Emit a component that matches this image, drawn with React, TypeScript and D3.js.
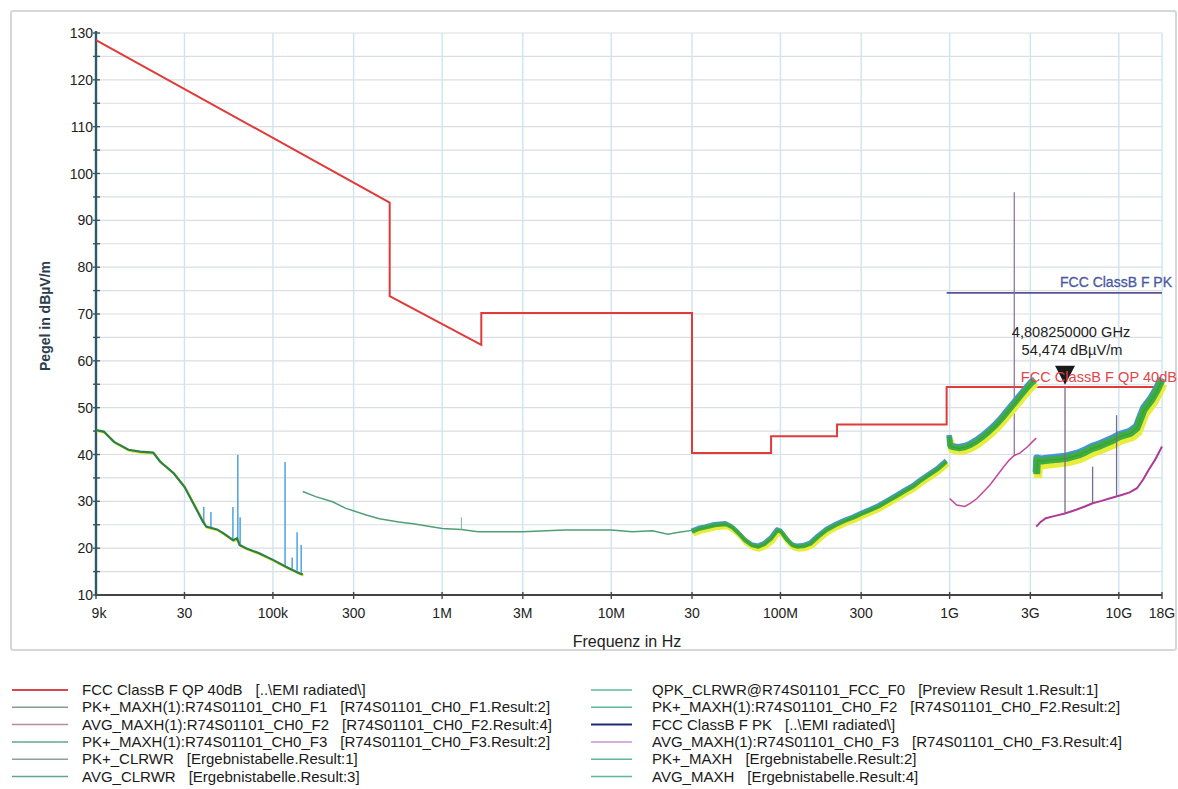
import React from 'react'
import * as d3 from 'd3'

const W = 1178
const H = 789

// limit lines
const qpFreq = [9e3, 490e3, 490e3, 1.705e6, 1.705e6, 30e6, 30e6, 88e6, 88e6, 216e6, 216e6, 960e6, 960e6, 18e9]
const qpLevel = [128.5, 93.8, 73.8, 63.4, 70.2, 70.2, 40.3, 40.3, 43.9, 43.9, 46.4, 46.4, 54.4, 54.4]
const pkFreq = [960e6, 18e9]
const pkLevel = [74.5, 74.5]

// F1: 9k - 150k
const f1Freq = [9e3, 10e3, 11.5e3, 14e3, 16.4e3, 19.6e3, 21.5e3, 25.9e3, 30e3, 33.8e3, 38.5e3, 40.3e3, 46.7e3, 50.8e3, 58.2e3, 61.3e3, 63.5e3, 69.2e3, 83e3, 100e3, 120e3, 144e3, 150e3]
const f1Level = [45.2, 44.9, 42.7, 41.0, 40.6, 40.4, 38.5, 36.0, 33.1, 29.6, 25.7, 24.6, 24.0, 23.2, 21.7, 22.1, 20.7, 20.0, 18.9, 17.5, 16.0, 14.6, 14.4]
const f1SpikeFreq = [39e3, 43e3, 58e3, 62e3, 64e3, 118e3, 130e3, 139e3, 147e3]
const f1SpikeBase = [25.4, 24.4, 21.8, 22.0, 20.8, 16.0, 15.6, 15.2, 14.6]
const f1SpikeTop = [28.8, 27.7, 28.8, 39.9, 26.6, 38.4, 18.0, 23.4, 20.7]

// F1: 150k - 30M (thin)
const f1bFreq = [150e3, 179e3, 225e3, 270e3, 356e3, 426e3, 554e3, 675e3, 1.0e6, 1.3e6, 1.63e6, 3.0e6, 5.3e6, 10e6, 13.3e6, 17.5e6, 21.6e6, 25.1e6, 30e6]
const f1bLevel = [32.1, 31.0, 29.9, 28.5, 27.1, 26.3, 25.6, 25.2, 24.2, 24.0, 23.5, 23.5, 23.9, 23.9, 23.5, 23.7, 23.0, 23.4, 23.8]
const f1bSpikeFreq = [1.3e6]
const f1bSpikeBase = [24.0]
const f1bSpikeTop = [26.6]

// F1: 30M - 1G (noisy band)
const f1cFreq = [30e6, 33e6, 36e6, 41e6, 47.6e6, 52e6, 56.5e6, 62e6, 68e6, 73.7e6, 80e6, 88e6, 96e6, 101e6, 110e6, 118e6, 126e6, 137e6, 150e6, 168e6, 188e6, 212e6, 240e6, 270e6, 301e6, 340e6, 381e6, 430e6, 480e6, 540e6, 605e6, 680e6, 763e6, 860e6, 960e6]
const f1cLevel = [23.5, 24.1, 24.4, 24.9, 25.1, 24.4, 23.2, 21.6, 20.6, 20.3, 20.8, 22.0, 23.8, 23.5, 21.7, 20.6, 20.3, 20.4, 20.9, 22.5, 23.9, 24.9, 25.8, 26.5, 27.3, 28.1, 28.9, 30.0, 31.0, 32.1, 33.1, 34.5, 35.7, 37.0, 38.5]

// F2: 1G - 3.2G
const f2PkFreq = [1.0e9, 1.01e9, 1.06e9, 1.13e9, 1.23e9, 1.33e9, 1.45e9, 1.58e9, 1.73e9, 1.89e9, 2.06e9, 2.25e9, 2.45e9, 2.66e9, 2.85e9, 3.05e9, 3.2e9]
const f2PkLevel = [43.8, 41.7, 41.5, 41.3, 41.5, 42.0, 42.8, 43.8, 45.0, 46.3, 47.8, 49.5, 51.1, 52.7, 54.0, 55.2, 55.8]
const f2AvgFreq = [1.0e9, 1.1e9, 1.23e9, 1.33e9, 1.45e9, 1.58e9, 1.73e9, 1.89e9, 2.06e9, 2.25e9, 2.41e9, 2.6e9, 2.9e9, 3.1e9, 3.25e9]
const f2AvgLevel = [30.6, 29.2, 28.9, 29.6, 30.6, 32.0, 33.5, 35.3, 37.1, 38.8, 39.8, 40.3, 41.7, 42.8, 43.5]
const f2SpikeFreq = [2.41e9]
const f2SpikeBase = [39.8]
const f2SpikeTop = [96.0]

// F3: 3.3G - 18G
const f3PkFreq = [3.27e9, 3.3e9, 3.5e9, 3.9e9, 4.4e9, 4.9e9, 5.8e9, 6.4e9, 7.0e9, 7.7e9, 8.4e9, 9.2e9, 10.1e9, 11.7e9, 12.8e9, 14.1e9, 15.6e9, 16.8e9, 18e9]
const f3PkLevel = [35.8, 38.8, 38.6, 38.8, 39.0, 39.2, 39.9, 40.6, 41.3, 41.8, 42.4, 43.0, 43.8, 44.5, 45.6, 49.5, 51.6, 53.6, 55.9]
const f3AvgFreq = [3.25e9, 3.45e9, 3.7e9, 4.2e9, 4.8e9, 5.6e9, 6.3e9, 7.0e9, 7.9e9, 8.8e9, 10.5e9, 11.6e9, 12.8e9, 13.9e9, 15.0e9, 16.4e9, 18e9]
const f3AvgLevel = [24.6, 25.6, 26.4, 26.9, 27.4, 28.2, 28.9, 29.6, 30.1, 30.6, 31.4, 31.9, 32.8, 34.6, 36.7, 38.9, 41.7]
const f3SpikeFreq = [4.80825e9, 7.0e9, 9.7e9]
const f3SpikeBase = [27.4, 29.6, 31.0]
const f3SpikeTop = [54.474, 37.4, 48.4]

// marker
const markerFreq = 4.80825e9
const markerLevel = 54.474
const markerLines = ['4,808250000 GHz', '54,474 dBµV/m']

// axes
const yTicks = [10, 20, 30, 40, 50, 60, 70, 80, 90, 100, 110, 120, 130]
const yMinor = [15, 25, 35, 45, 55, 65, 75, 85, 95, 105, 115, 125]
const xTicks = [9e3, 30e3, 100e3, 300e3, 1e6, 3e6, 10e6, 30e6, 100e6, 300e6, 1e9, 3e9, 10e9, 18e9]
const xTickLabels = ['9k', '30', '100k', '300', '1M', '3M', '10M', '30', '100M', '300', '1G', '3G', '10G', '18G']

// legend: [name, source]
const legendLeft = [
  ['FCC ClassB F QP 40dB', '[..\\EMI radiated\\]'],
  ['PK+_MAXH(1):R74S01101_CH0_F1', '[R74S01101_CH0_F1.Result:2]'],
  ['AVG_MAXH(1):R74S01101_CH0_F2', '[R74S01101_CH0_F2.Result:4]'],
  ['PK+_MAXH(1):R74S01101_CH0_F3', '[R74S01101_CH0_F3.Result:2]'],
  ['PK+_CLRWR', '[Ergebnistabelle.Result:1]'],
  ['AVG_CLRWR', '[Ergebnistabelle.Result:3]']
]
const legendRight = [
  ['QPK_CLRWR@R74S01101_FCC_F0', '[Preview Result 1.Result:1]'],
  ['PK+_MAXH(1):R74S01101_CH0_F2', '[R74S01101_CH0_F2.Result:2]'],
  ['FCC ClassB F PK', '[..\\EMI radiated\\]'],
  ['AVG_MAXH(1):R74S01101_CH0_F3', '[R74S01101_CH0_F3.Result:4]'],
  ['PK+_MAXH', '[Ergebnistabelle.Result:2]'],
  ['AVG_MAXH', '[Ergebnistabelle.Result:4]']
]
const legendLeftColors = ['#d8474a', '#7f9f8c', '#b98aa2', '#5fa88c', '#86a593', '#5fa88c']
const legendRightColors = ['#5cb89c', '#5cb89c', '#1c2a78', '#c894d6', '#5cb89c', '#5cb89c']

const FONT = '"Liberation Sans", Arial, sans-serif'

const x = d3.scaleLog().domain([9e3, 18e9]).range([96, 1162])
const y = d3.scaleLinear().domain([10, 130]).range([595, 33])

const zip = (f: number[], v: number[]): [number, number][] => f.map((d, i) => [d, v[i]])
const line = d3.line<[number, number]>().x(d => x(d[0])).y(d => y(d[1]))

const Band = ({ f, v, w = 3 }: { f: number[], v: number[], w?: number }) => {
  const d = line(zip(f, v)) || ''
  return (
    <g fill='none' strokeLinejoin='round' strokeLinecap='butt'>
      <path d={d} stroke='#e8ec3a' strokeWidth={w + 1.5} transform={`translate(1.2,${w * 0.55})`} />
      <path d={d} stroke='#4494d6' strokeWidth={w} transform={`translate(-0.6,${-w * 0.3})`} />
      <path d={d} stroke='#3fae3e' strokeWidth={w} />
      <path d={d} stroke='#247a3e' strokeWidth={0.8} strokeOpacity={0.45} />
    </g>
  )
}

const Spikes = ({ f, b, t, color, w = 1.2 }: { f: number[], b: number[], t: number[], color: string, w?: number }) => (
  <g stroke={color} strokeWidth={w}>
    {f.map((d, i) => (
      <line key={i} x1={x(d)} x2={x(d)} y1={y(b[i])} y2={y(t[i])} />
    ))}
  </g>
)

export default function App () {
  const mx = x(markerFreq)
  const my = y(markerLevel)
  const rowY = (i: number) => 690 + i * 17.3
  return (
    <svg width={W} height={H} viewBox={`0 0 ${W} ${H}`} style={{ display: 'block', position: 'absolute', left: 0, top: 0, background: '#fff' }} fontFamily={FONT}>
      <rect x={0} y={0} width={W} height={H} fill='#fff' />
      <rect x={11} y={11} width={1165} height={639} fill='none' stroke='#d6d8d8' strokeWidth={2} rx={2} />

      {/* grid */}
      <g stroke='#d9dee2' strokeWidth={1.2}>
        {yMinor.concat(yTicks.slice(1)).map(v => (
          <line key={v} x1={x(9e3)} x2={x(18e9)} y1={y(v)} y2={y(v)} />
        ))}
      </g>
      <g stroke='#cfe4ef' strokeWidth={1.4}>
        {xTicks.slice(1).map(v => (
          <line key={v} x1={x(v)} x2={x(v)} y1={y(130)} y2={y(10)} />
        ))}
      </g>

      {/* axes */}
      <line x1={x(9e3)} x2={x(18e9)} y1={y(10)} y2={y(10)} stroke='#444' strokeWidth={2} />
      <line x1={x(9e3)} x2={x(9e3)} y1={y(130) - 2} y2={y(10) + 1} stroke='#2f5966' strokeWidth={2.4} />
      <g stroke='#2f5966' strokeWidth={1.4}>
        {yTicks.concat(yMinor).map(v => (
          <line key={v} x1={x(9e3) - 3} x2={x(9e3) + 4} y1={y(v)} y2={y(v)} />
        ))}
      </g>
      <g stroke='#444' strokeWidth={1.4}>
        {xTicks.map(v => (
          <line key={v} x1={x(v)} x2={x(v)} y1={y(10) - 3} y2={y(10) + 4} />
        ))}
      </g>
      <g fontSize={14} fill='#222' textAnchor='end'>
        {yTicks.map(v => (
          <text key={v} x={x(9e3) - 3} y={y(v) + 5}>{v}</text>
        ))}
      </g>
      <g fontSize={14} fill='#222' textAnchor='middle'>
        {xTicks.map((v, i) => (
          <text key={v} x={x(v) + (i === 0 ? 3 : 0)} y={618}>{xTickLabels[i]}</text>
        ))}
      </g>
      <text x={627} y={647} fontSize={16} fill='#222' textAnchor='middle'>Frequenz in Hz</text>
      <text transform='translate(50,316) rotate(-90)' fontSize={14} fontWeight='bold' fill='#2a3d4c' textAnchor='middle'>Pegel in dBµV/m</text>

      {/* limits */}
      <path d={line(zip(pkFreq, pkLevel)) || ''} fill='none' stroke='#5a5296' strokeWidth={1.8} />
      <path d={line(zip(qpFreq, qpLevel)) || ''} fill='none' stroke='#e03a3a' strokeWidth={2} />

      {/* traces */}
      <g fill='none'>
        <path d={line(zip(f1Freq, f1Level)) || ''} stroke='#e4e830' strokeWidth={2.4} transform='translate(1,1)' />
        <Spikes f={f1SpikeFreq} b={f1SpikeBase} t={f1SpikeTop} color='#5aa8e0' w={1.6} />
        <path d={line(zip(f1Freq, f1Level)) || ''} stroke='#2a7f4e' strokeWidth={2.2} />
        <path d={line(zip(f1bFreq, f1bLevel)) || ''} stroke='#4f9f76' strokeWidth={1.5} />
        <Spikes f={f1bSpikeFreq} b={f1bSpikeBase} t={f1bSpikeTop} color='#7fb59a' w={1} />
        <Band f={f1cFreq} v={f1cLevel} w={4} />
        <Spikes f={f2SpikeFreq} b={f2SpikeBase} t={f2SpikeTop} color='#8c6c98' w={1.2} />
        <Band f={f2PkFreq} v={f2PkLevel} w={5.5} />
        <path d={line(zip(f2AvgFreq, f2AvgLevel)) || ''} stroke='#c4489c' strokeWidth={1.5} />
        <Band f={f3PkFreq} v={f3PkLevel} w={7} />
        <path d={line(zip(f3AvgFreq, f3AvgLevel)) || ''} stroke='#ad3a96' strokeWidth={2} />
        <Spikes f={f3SpikeFreq} b={f3SpikeBase} t={f3SpikeTop} color='#7a6a8c' w={1.3} />
      </g>

      {/* limit labels */}
      <text x={1172} y={287} fontSize={14} fill='#4a5aa0' stroke='#4a5aa0' strokeWidth={0.3} textAnchor='end'>FCC ClassB F PK</text>

      {/* marker */}
      <path d={`M${mx - 10},${my - 21}L${mx + 10},${my - 21}L${mx},${my - 2}Z`} fill='#1a1a1a' />
      <text x={1177} y={382} fontSize={14.6} fill='#e0464a' textAnchor='end'>FCC ClassB F QP 40dB</text>
      <g fontSize={14.6} fill='#222' textAnchor='middle'>
        <text x={1071} y={337}>{markerLines[0]}</text>
        <text x={1072} y={355}>{markerLines[1]}</text>
      </g>

      {/* legend */}
      <g fontSize={15} fill='#1a1a1a'>
        {legendLeft.map((t, i) => (
          <g key={t[0]}>
            <line x1={12} x2={68} y1={rowY(i)} y2={rowY(i)} stroke={legendLeftColors[i]} strokeWidth={i === 0 ? 2 : 1.5} />
            <text x={82} y={rowY(i) + 5}>{t[0]}<tspan dx={13}>{t[1]}</tspan></text>
          </g>
        ))}
        {legendRight.map((t, i) => (
          <g key={t[0]}>
            <line x1={591} x2={632} y1={rowY(i)} y2={rowY(i)} stroke={legendRightColors[i]} strokeWidth={i === 2 ? 2 : 1.5} />
            <text x={652} y={rowY(i) + 5}>{t[0]}<tspan dx={13}>{t[1]}</tspan></text>
          </g>
        ))}
      </g>
    </svg>
  )
}
